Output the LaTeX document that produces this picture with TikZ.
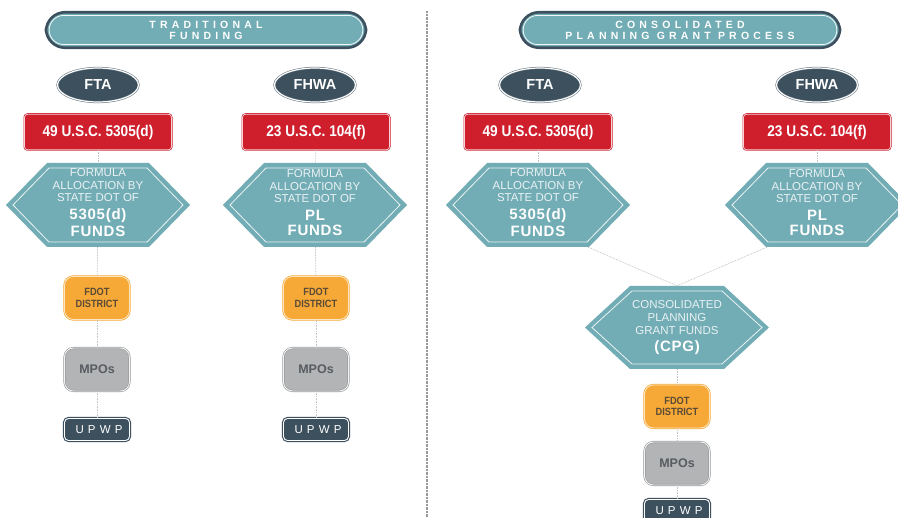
\documentclass[tikz,border=0pt]{standalone}
\usepackage{fontspec}
\setmainfont{Liberation Sans}
\newfontfamily\spacedfont[LetterSpace=40]{Liberation Sans}
\newfontfamily\upwpfont[LetterSpace=36]{Liberation Sans}
\newfontfamily\boldspaced[LetterSpace=5]{Liberation Sans}
\newfontfamily\narrowfont[FakeStretch=0.88]{Liberation Sans}
\usetikzlibrary{shapes.geometric}
\definecolor{tealc}{HTML}{72ACB5}
\definecolor{darkc}{HTML}{3C505E}
\definecolor{redc}{HTML}{CF1F2D}
\definecolor{orangec}{HTML}{F6A937}
\definecolor{greyc}{HTML}{B2B4B6}
\definecolor{hextxtc}{HTML}{EAF2F4}
\definecolor{fdottxtc}{HTML}{5A4A36}
\definecolor{mpotxtc}{HTML}{585C60}
\definecolor{linkc}{HTML}{C4C4C4}
\definecolor{divc}{HTML}{9A9A9A}
\newcommand\hexfill[5]{% x y W T H
  \fill[tealc] (#1-#3,#2) -- (#1-#4,#2-#5) -- (#1+#4,#2-#5) -- (#1+#3,#2) -- (#1+#4,#2+#5) -- (#1-#4,#2+#5) -- cycle;
  \draw[white!85!tealc, line width=0.8pt] (#1-#3+7,#2) -- (#1-#4+2,#2-#5+5) -- (#1+#4-2,#2-#5+5) -- (#1+#3-7,#2) -- (#1+#4-2,#2+#5-5) -- (#1-#4+2,#2+#5-5) -- cycle;
}
\newcommand\hb{\boldspaced\bfseries\fontsize{15}{16}\selectfont\color{white}}
\newcommand\innerpill[1]{%
  \draw[white!90!tealc, line width=0.8pt, rounded corners=14.5pt] ([shift={(4.5,4.5)}]#1.north west) rectangle ([shift={(-4.5,-4.5)}]#1.south east);}
\tikzset{
  pill/.style={draw=darkc, line width=2.6pt, fill=tealc, rounded corners=19pt, minimum width=320pt, minimum height=35.5pt, inner sep=0pt, text=white, font=\spacedfont\bfseries\fontsize{10.5}{11}\selectfont, align=center},
  ell/.style={ellipse, fill=darkc, draw=darkc!85, double=white, double distance=1.2pt, line width=0.5pt, minimum width=81pt, minimum height=34pt, inner sep=0pt, text=white, font=\bfseries\fontsize{14.5}{16}\selectfont},
  redbox/.style={fill=redc, draw=redc, double=white!80!redc, double distance=0.8pt, line width=0.6pt, rounded corners=3pt, minimum width=147pt, minimum height=35.5pt, inner sep=0pt, text=white, font=\narrowfont\bfseries\fontsize{15.5}{16}\selectfont},
  hexbox/.style={minimum width=184pt, minimum height=84pt, inner sep=0pt},
  hextxt/.style={align=center, text=hextxtc, inner sep=0pt, font=\fontsize{11.5}{12.5}\selectfont},
  fdot/.style={fill=orangec, draw=orangec, double=white!70!orangec, double distance=0.9pt, line width=0.7pt, rounded corners=9pt, minimum width=65pt, minimum height=43pt, inner sep=0pt, text=fdottxtc, font=\narrowfont\bfseries\fontsize{10.5}{11.5}\selectfont, align=center},
  mpo/.style={fill=greyc, draw=greyc!85!black, double=white!85!greyc, double distance=0.9pt, line width=0.6pt, rounded corners=9pt, minimum width=65pt, minimum height=43pt, inner sep=0pt, text=mpotxtc, font=\bfseries\fontsize{12.5}{14}\selectfont},
  upwp/.style={fill=darkc, draw=darkc, double=white, double distance=0.9pt, line width=1.1pt, rounded corners=4pt, minimum width=65pt, minimum height=22pt, inner sep=0pt, text=white, font=\upwpfont\fontsize{11.5}{12}\selectfont},
  link/.style={draw=linkc, line width=0.7pt, dash pattern=on 0.8pt off 0.8pt},
  divider/.style={draw=divc, line width=1.4pt, dash pattern=on 0.8pt off 0.6pt}
}
\begin{document}
\begin{tikzpicture}[x=1pt, y=-1pt]
\useasboundingbox (0,0) rectangle (898,518);
\fill[white] (0,0) rectangle (898,518);
\clip (0,0) rectangle (898,518);
% divider
\coordinate (dtop) at (427,11);
\coordinate (dbot) at (427,518);
\draw[divider] (dtop) -- (dbot);
% ---------- left: traditional ----------
\node[pill] (t1) at (206,30) {TRADITIONAL\\FUNDING};
\innerpill{t1}
\node[ell] (e1) at (98,85) {FTA};
\node[ell] (e2) at (315,85) {FHWA};
\node[redbox] (r1) at (98,132) {49 U.S.C. 5305(d)};
\node[redbox] (r2) at (316,132) {23 U.S.C. 104(f)};
\hexfill{98}{205}{92}{51}{42}
\hexfill{315}{205}{92}{51}{42}
\node[hexbox] (h1) at (98,205) {};
\node[hexbox] (h2) at (315,205) {};
\node[hextxt] (h1t) at (98,203) {FORMULA\\ALLOCATION BY\\STATE DOT OF\\[5.5pt]\hb 5305(d)\\[2.5pt]\hb FUNDS};
\node[hextxt] (h2t) at (315,203) {FORMULA\\ALLOCATION BY\\STATE DOT OF\\[5.5pt]\hb PL\\[2.5pt]\hb FUNDS};
\node[fdot] (f1) at (97,298) {FDOT\\DISTRICT};
\node[fdot] (f2) at (316,298) {FDOT\\DISTRICT};
\node[mpo] (m1) at (97,369.5) {MPOs};
\node[mpo] (m2) at (316,369.5) {MPOs};
\node[upwp] (u1) at (97,429.5) {\hspace{4pt}UPWP};
\node[upwp] (u2) at (316,429.5) {\hspace{4pt}UPWP};
\draw[link] (r1) -- (h1);
\draw[link] (r2) -- (h2);
\draw[link] (h1) -- (f1);
\draw[link] (h2) -- (f2);
\draw[link] (f1) -- (m1);
\draw[link] (f2) -- (m2);
\draw[link] (m1) -- (u1);
\draw[link] (m2) -- (u2);
% ---------- right: consolidated ----------
\node[pill] (t2) at (680,30) {CONSOLIDATED\\PLANNING GRANT PROCESS};
\innerpill{t2}
\node[ell] (e3) at (540,85) {FTA};
\node[ell] (e4) at (817,85) {FHWA};
\node[redbox] (r3) at (538,132) {49 U.S.C. 5305(d)};
\node[redbox] (r4) at (817,132) {23 U.S.C. 104(f)};
\hexfill{538}{205}{92}{51}{42}
\hexfill{817}{205}{92}{51}{42}
\node[hexbox] (h3) at (538,205) {};
\node[hexbox] (h4) at (817,205) {};
\node[hextxt] (h3t) at (538,203) {FORMULA\\ALLOCATION BY\\STATE DOT OF\\[5.5pt]\hb 5305(d)\\[2.5pt]\hb FUNDS};
\node[hextxt] (h4t) at (817,203) {FORMULA\\ALLOCATION BY\\STATE DOT OF\\[5.5pt]\hb PL\\[2.5pt]\hb FUNDS};
\hexfill{677}{327.5}{92}{47}{41.5}
\node[hexbox, minimum height=83pt] (cpg) at (677,327.5) {};
\node[hextxt, font=\fontsize{11.5}{13}\selectfont] (cpgt) at (677,328) {CONSOLIDATED\\PLANNING\\GRANT FUNDS\\[4pt]\hb (CPG)};
\node[fdot] (f3) at (677,406.5) {FDOT\\DISTRICT};
\node[mpo] (m3) at (677,463.5) {MPOs};
\node[upwp] (u3) at (677,510.5) {\hspace{4pt}UPWP};
\draw[link] (r3) -- (h3);
\draw[link] (r4) -- (h4);
\draw[link] ([xshift=-42pt]h3.south east) -- (cpg.north);
\draw[link] ([xshift=42pt]h4.south west) -- (cpg.north);
\draw[link] (cpg) -- (f3);
\draw[link] (f3) -- (m3);
\draw[link] (m3) -- (u3);
\end{tikzpicture}
\end{document}
